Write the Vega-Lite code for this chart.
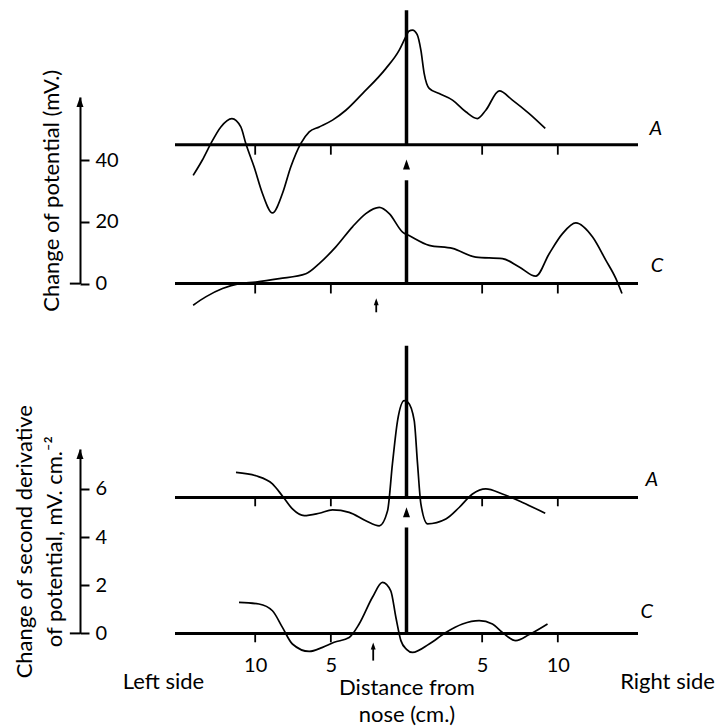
{
  "$schema": "https://vega.github.io/schema/vega-lite/v6.json",
  "background": "white",
  "padding": {"top": 8, "left": 13, "right": 5, "bottom": 5},
  "config": {
    "view": {"stroke": null},
    "font": "Lato",
    "axis": {"labelColor": "black", "titleColor": "black", "domainColor": "black", "tickColor": "black", "grid": false, "labelFontSize": 20, "titleFontSize": 22, "titleFontWeight": "normal", "minExtent": 0}
  },
  "datasets": {
    "curves": [
      {"p": "top", "s": "A", "x": -14.1, "y": 35.1},
      {"p": "top", "s": "A", "x": -13.5, "y": 40.0},
      {"p": "top", "s": "A", "x": -12.93, "y": 45.4},
      {"p": "top", "s": "A", "x": -12.27, "y": 50.8},
      {"p": "top", "s": "A", "x": -11.54, "y": 53.5},
      {"p": "top", "s": "A", "x": -10.95, "y": 50.8},
      {"p": "top", "s": "A", "x": -10.62, "y": 45.4},
      {"p": "top", "s": "A", "x": -10.07, "y": 37.8},
      {"p": "top", "s": "A", "x": -9.52, "y": 29.2},
      {"p": "top", "s": "A", "x": -8.86, "y": 22.9},
      {"p": "top", "s": "A", "x": -8.2, "y": 29.2},
      {"p": "top", "s": "A", "x": -7.65, "y": 37.8},
      {"p": "top", "s": "A", "x": -6.99, "y": 45.4},
      {"p": "top", "s": "A", "x": -6.43, "y": 49.2},
      {"p": "top", "s": "A", "x": -5.77, "y": 50.8},
      {"p": "top", "s": "A", "x": -4.89, "y": 53.0},
      {"p": "top", "s": "A", "x": -4.01, "y": 56.2},
      {"p": "top", "s": "A", "x": -2.91, "y": 61.6},
      {"p": "top", "s": "A", "x": -1.37, "y": 69.7},
      {"p": "top", "s": "A", "x": -0.48, "y": 75.7},
      {"p": "top", "s": "A", "x": -0.05, "y": 80.0},
      {"p": "top", "s": "A", "x": 0.15, "y": 81.8},
      {"p": "top", "s": "A", "x": 0.4, "y": 82.2},
      {"p": "top", "s": "A", "x": 0.7, "y": 80.8},
      {"p": "top", "s": "A", "x": 0.95, "y": 75.7},
      {"p": "top", "s": "A", "x": 1.17, "y": 68.1},
      {"p": "top", "s": "A", "x": 1.5, "y": 63.3},
      {"p": "top", "s": "A", "x": 2.16, "y": 61.6},
      {"p": "top", "s": "A", "x": 3.04, "y": 59.5},
      {"p": "top", "s": "A", "x": 3.92, "y": 55.7},
      {"p": "top", "s": "A", "x": 4.69, "y": 53.5},
      {"p": "top", "s": "A", "x": 5.24, "y": 56.2},
      {"p": "top", "s": "A", "x": 6.13, "y": 62.5},
      {"p": "top", "s": "A", "x": 7.0, "y": 59.5},
      {"p": "top", "s": "A", "x": 8.11, "y": 55.1},
      {"p": "top", "s": "A", "x": 9.17, "y": 50.3},
      {"p": "top", "s": "C", "x": -14.1, "y": -7.0},
      {"p": "top", "s": "C", "x": -13.27, "y": -4.3},
      {"p": "top", "s": "C", "x": -12.16, "y": -1.6},
      {"p": "top", "s": "C", "x": -11.06, "y": 0.0},
      {"p": "top", "s": "C", "x": -9.96, "y": 0.5},
      {"p": "top", "s": "C", "x": -8.41, "y": 1.6},
      {"p": "top", "s": "C", "x": -6.65, "y": 3.2},
      {"p": "top", "s": "C", "x": -5.77, "y": 6.5},
      {"p": "top", "s": "C", "x": -4.67, "y": 11.9},
      {"p": "top", "s": "C", "x": -3.57, "y": 18.4},
      {"p": "top", "s": "C", "x": -2.69, "y": 22.7},
      {"p": "top", "s": "C", "x": -1.8, "y": 24.7},
      {"p": "top", "s": "C", "x": -1.14, "y": 22.7},
      {"p": "top", "s": "C", "x": -0.26, "y": 16.7},
      {"p": "top", "s": "C", "x": 0.2, "y": 15.5},
      {"p": "top", "s": "C", "x": 1.5, "y": 12.4},
      {"p": "top", "s": "C", "x": 3.04, "y": 11.4},
      {"p": "top", "s": "C", "x": 4.58, "y": 8.6},
      {"p": "top", "s": "C", "x": 6.34, "y": 8.1},
      {"p": "top", "s": "C", "x": 7.45, "y": 5.4},
      {"p": "top", "s": "C", "x": 8.55, "y": 2.4},
      {"p": "top", "s": "C", "x": 9.43, "y": 9.7},
      {"p": "top", "s": "C", "x": 10.31, "y": 16.2},
      {"p": "top", "s": "C", "x": 11.19, "y": 19.7},
      {"p": "top", "s": "C", "x": 12.3, "y": 15.1},
      {"p": "top", "s": "C", "x": 13.17, "y": 7.6},
      {"p": "top", "s": "C", "x": 13.84, "y": 1.6},
      {"p": "top", "s": "C", "x": 14.24, "y": -3.2},
      {"p": "bottom", "s": "A", "x": -11.27, "y": 6.69},
      {"p": "bottom", "s": "A", "x": -9.96, "y": 6.55},
      {"p": "bottom", "s": "A", "x": -8.86, "y": 6.21},
      {"p": "bottom", "s": "A", "x": -8.2, "y": 5.71},
      {"p": "bottom", "s": "A", "x": -7.54, "y": 5.17},
      {"p": "bottom", "s": "A", "x": -6.76, "y": 4.89},
      {"p": "bottom", "s": "A", "x": -5.77, "y": 4.99},
      {"p": "bottom", "s": "A", "x": -4.89, "y": 5.13},
      {"p": "bottom", "s": "A", "x": -3.79, "y": 5.03},
      {"p": "bottom", "s": "A", "x": -2.69, "y": 4.68},
      {"p": "bottom", "s": "A", "x": -1.8, "y": 4.47},
      {"p": "bottom", "s": "A", "x": -1.25, "y": 5.1},
      {"p": "bottom", "s": "A", "x": -0.93, "y": 7.04},
      {"p": "bottom", "s": "A", "x": -0.59, "y": 8.84},
      {"p": "bottom", "s": "A", "x": -0.15, "y": 9.67},
      {"p": "bottom", "s": "A", "x": 0.1, "y": 9.6},
      {"p": "bottom", "s": "A", "x": 0.51, "y": 8.84},
      {"p": "bottom", "s": "A", "x": 0.73, "y": 7.04},
      {"p": "bottom", "s": "A", "x": 0.95, "y": 5.38},
      {"p": "bottom", "s": "A", "x": 1.39, "y": 4.55},
      {"p": "bottom", "s": "A", "x": 2.6, "y": 4.75},
      {"p": "bottom", "s": "A", "x": 3.48, "y": 5.23},
      {"p": "bottom", "s": "A", "x": 4.36, "y": 5.79},
      {"p": "bottom", "s": "A", "x": 5.24, "y": 6.0},
      {"p": "bottom", "s": "A", "x": 6.34, "y": 5.79},
      {"p": "bottom", "s": "A", "x": 7.67, "y": 5.44},
      {"p": "bottom", "s": "A", "x": 9.17, "y": 4.99},
      {"p": "bottom", "s": "C", "x": -11.07, "y": 1.29},
      {"p": "bottom", "s": "C", "x": -9.75, "y": 1.22},
      {"p": "bottom", "s": "C", "x": -8.86, "y": 0.94},
      {"p": "bottom", "s": "C", "x": -8.2, "y": 0.25},
      {"p": "bottom", "s": "C", "x": -7.54, "y": -0.44},
      {"p": "bottom", "s": "C", "x": -6.43, "y": -0.75},
      {"p": "bottom", "s": "C", "x": -5.55, "y": -0.58},
      {"p": "bottom", "s": "C", "x": -4.78, "y": -0.37},
      {"p": "bottom", "s": "C", "x": -3.79, "y": -0.17},
      {"p": "bottom", "s": "C", "x": -3.13, "y": 0.39},
      {"p": "bottom", "s": "C", "x": -2.25, "y": 1.5},
      {"p": "bottom", "s": "C", "x": -1.59, "y": 2.12},
      {"p": "bottom", "s": "C", "x": -1.04, "y": 1.77},
      {"p": "bottom", "s": "C", "x": -0.7, "y": 0.66},
      {"p": "bottom", "s": "C", "x": -0.37, "y": -0.3},
      {"p": "bottom", "s": "C", "x": 0.0, "y": -0.66},
      {"p": "bottom", "s": "C", "x": 0.4, "y": -0.79},
      {"p": "bottom", "s": "C", "x": 1.5, "y": -0.44},
      {"p": "bottom", "s": "C", "x": 2.6, "y": 0.04},
      {"p": "bottom", "s": "C", "x": 3.7, "y": 0.39},
      {"p": "bottom", "s": "C", "x": 4.8, "y": 0.53},
      {"p": "bottom", "s": "C", "x": 5.68, "y": 0.39},
      {"p": "bottom", "s": "C", "x": 6.34, "y": 0.04},
      {"p": "bottom", "s": "C", "x": 7.22, "y": -0.3},
      {"p": "bottom", "s": "C", "x": 8.11, "y": -0.05},
      {"p": "bottom", "s": "C", "x": 9.32, "y": 0.39}
    ],
    "baselines": [
      {"p": "top", "k": "base", "x": -15.3, "x2": 15.3, "y": 45},
      {"p": "top", "k": "base", "x": -15.3, "x2": 15.3, "y": 0},
      {"p": "bottom", "k": "base", "x": -15.3, "x2": 15.3, "y": 5.65},
      {"p": "bottom", "k": "base", "x": -15.3, "x2": 15.3, "y": 0},
      {"p": "top", "k": "zero", "x": -22.25, "x2": -21.58, "y": 0},
      {"p": "bottom", "k": "zero", "x": -22.25, "x2": -21.58, "y": 0}
    ],
    "segments": [
      {"p": "top", "k": "centre", "x": 0, "y": 45, "y2": 88.6},
      {"p": "top", "k": "centre", "x": 0, "y": 0, "y2": 33.5},
      {"p": "top", "k": "thin", "x": -2.0, "y": -5.9, "y2": -9.3},
      {"p": "top", "k": "thin", "x": -10, "y": 45, "y2": 41.8},
      {"p": "top", "k": "thin", "x": -5, "y": 45, "y2": 41.8},
      {"p": "top", "k": "thin", "x": 5, "y": 45, "y2": 41.8},
      {"p": "top", "k": "thin", "x": 10, "y": 45, "y2": 41.8},
      {"p": "top", "k": "thin", "x": -10, "y": 0, "y2": -3.2},
      {"p": "top", "k": "thin", "x": -5, "y": 0, "y2": -3.2},
      {"p": "top", "k": "thin", "x": 5, "y": 0, "y2": -3.2},
      {"p": "top", "k": "thin", "x": 10, "y": 0, "y2": -3.2},
      {"p": "bottom", "k": "centre", "x": 0, "y": 5.65, "y2": 11.95},
      {"p": "bottom", "k": "centre", "x": 0, "y": 0, "y2": 4.4},
      {"p": "bottom", "k": "thin", "x": -2.2, "y": -0.52, "y2": -1.13},
      {"p": "bottom", "k": "thin", "x": -10, "y": 5.65, "y2": 5.28},
      {"p": "bottom", "k": "thin", "x": -5, "y": 5.65, "y2": 5.28},
      {"p": "bottom", "k": "thin", "x": 5, "y": 5.65, "y2": 5.28},
      {"p": "bottom", "k": "thin", "x": 10, "y": 5.65, "y2": 5.28},
      {"p": "bottom", "k": "thin", "x": -10, "y": 0, "y2": -0.37},
      {"p": "bottom", "k": "thin", "x": -5, "y": 0, "y2": -0.37},
      {"p": "bottom", "k": "thin", "x": 5, "y": 0, "y2": -0.37},
      {"p": "bottom", "k": "thin", "x": 10, "y": 0, "y2": -0.37}
    ],
    "heads": [
      {"p": "top", "k": "big", "x": 0, "y": 38.6},
      {"p": "top", "k": "big", "x": -21.58, "y": 58.9},
      {"p": "top", "k": "small", "x": -2.0, "y": -5.9},
      {"p": "bottom", "k": "big", "x": 0, "y": 5.03},
      {"p": "bottom", "k": "big", "x": -21.58, "y": 7.45},
      {"p": "bottom", "k": "small", "x": -2.2, "y": -0.52}
    ],
    "labels": [
      {"p": "top", "t": "A", "x": 16.06, "y": 48.1},
      {"p": "top", "t": "C", "x": 16.15, "y": 3.8},
      {"p": "bottom", "t": "A", "x": 15.8, "y": 6.14},
      {"p": "bottom", "t": "C", "x": 15.47, "y": 0.65}
    ],
    "sides": [
      {"t": "Left side", "x": -16.06, "y": -2.3},
      {"t": "Right side", "x": 17.25, "y": -2.3}
    ]
  },
  "bounds": "flush",
  "spacing": 165,
  "vconcat": [
    {
      "width": 463,
      "height": 186.6,
      "encoding": {
        "x": {"field": "x", "type": "quantitative", "scale": {"domain": [-15.3, 15.3], "nice": false, "zero": false}, "axis": null},
        "y": {"field": "y", "type": "quantitative", "scale": {"domain": [0, 60.5], "nice": false, "zero": false},
          "axis": {"title": "Change of potential (mV.)", "values": [0, 20, 40], "offset": 95, "domainWidth": 2, "tickWidth": 2, "tickSize": -9, "labelAlign": "left", "labelPadding": -6, "titlePadding": 16}}
      },
      "layer": [
        {"data": {"name": "baselines"}, "transform": [{"filter": "datum.p == 'top' && datum.k == 'base'"}], "mark": {"type": "rule", "strokeWidth": 3, "color": "black"}, "encoding": {"x2": {"field": "x2"}}},
        {"data": {"name": "baselines"}, "transform": [{"filter": "datum.p == 'top' && datum.k == 'zero'"}], "mark": {"type": "rule", "strokeWidth": 2, "color": "black"}, "encoding": {"x2": {"field": "x2"}}},
        {"data": {"name": "segments"}, "transform": [{"filter": "datum.p == 'top' && datum.k == 'centre'"}], "mark": {"type": "rule", "strokeWidth": 3.5, "color": "black"}, "encoding": {"y2": {"field": "y2"}}},
        {"data": {"name": "segments"}, "transform": [{"filter": "datum.p == 'top' && datum.k == 'thin'"}], "mark": {"type": "rule", "strokeWidth": 1.8, "color": "black"}, "encoding": {"y2": {"field": "y2"}}},
        {"data": {"name": "curves"}, "transform": [{"filter": "datum.p == 'top'"}], "mark": {"type": "line", "interpolate": "monotone", "color": "black", "strokeWidth": 1.7}, "encoding": {"detail": {"field": "s"}}},
        {"data": {"name": "heads"}, "transform": [{"filter": "datum.p == 'top' && datum.k == 'big'"}], "mark": {"type": "point", "shape": "M0,-1L0.7,1L-0.7,1Z", "filled": true, "color": "black", "opacity": 1, "size": 100}},
        {"data": {"name": "heads"}, "transform": [{"filter": "datum.p == 'top' && datum.k == 'small'"}], "mark": {"type": "point", "shape": "M0,-1L0.7,1L-0.7,1Z", "filled": true, "color": "black", "opacity": 1, "size": 49}},
        {"data": {"name": "labels"}, "transform": [{"filter": "datum.p == 'top'"}], "mark": {"type": "text", "align": "left", "baseline": "alphabetic", "fontStyle": "italic", "fontSize": 20, "color": "black"}, "encoding": {"text": {"field": "t"}}}
      ]
    },
    {
      "width": 463,
      "height": 184.4,
      "encoding": {
        "x": {"field": "x", "type": "quantitative", "scale": {"domain": [-15.3, 15.3], "nice": false, "zero": false},
          "axis": {"values": [-10, -5, 5, 10], "labelExpr": "'' + abs(datum.value)", "domain": false, "ticks": false, "labelPadding": 22, "labelFlush": false, "title": ["Distance from", "nose (cm.)"], "titlePadding": 2, "titleLineHeight": 27}},
        "y": {"field": "y", "type": "quantitative", "scale": {"domain": [0, 7.66], "nice": false, "zero": false},
          "axis": {"title": ["Change of second derivative", "of potential, mV. cm.⁻²"], "titleLineHeight": 30, "values": [0, 2, 4, 6], "offset": 95, "domainWidth": 2, "tickWidth": 2, "tickSize": -9, "labelAlign": "left", "labelPadding": -6, "titlePadding": 13}}
      },
      "layer": [
        {"data": {"name": "baselines"}, "transform": [{"filter": "datum.p == 'bottom' && datum.k == 'base'"}], "mark": {"type": "rule", "strokeWidth": 3, "color": "black"}, "encoding": {"x2": {"field": "x2"}}},
        {"data": {"name": "baselines"}, "transform": [{"filter": "datum.p == 'bottom' && datum.k == 'zero'"}], "mark": {"type": "rule", "strokeWidth": 2, "color": "black"}, "encoding": {"x2": {"field": "x2"}}},
        {"data": {"name": "segments"}, "transform": [{"filter": "datum.p == 'bottom' && datum.k == 'centre'"}], "mark": {"type": "rule", "strokeWidth": 3.5, "color": "black"}, "encoding": {"y2": {"field": "y2"}}},
        {"data": {"name": "segments"}, "transform": [{"filter": "datum.p == 'bottom' && datum.k == 'thin'"}], "mark": {"type": "rule", "strokeWidth": 1.8, "color": "black"}, "encoding": {"y2": {"field": "y2"}}},
        {"data": {"name": "curves"}, "transform": [{"filter": "datum.p == 'bottom'"}], "mark": {"type": "line", "interpolate": "monotone", "color": "black", "strokeWidth": 1.7}, "encoding": {"detail": {"field": "s"}}},
        {"data": {"name": "heads"}, "transform": [{"filter": "datum.p == 'bottom' && datum.k == 'big'"}], "mark": {"type": "point", "shape": "M0,-1L0.7,1L-0.7,1Z", "filled": true, "color": "black", "opacity": 1, "size": 100}},
        {"data": {"name": "heads"}, "transform": [{"filter": "datum.p == 'bottom' && datum.k == 'small'"}], "mark": {"type": "point", "shape": "M0,-1L0.7,1L-0.7,1Z", "filled": true, "color": "black", "opacity": 1, "size": 49}},
        {"data": {"name": "labels"}, "transform": [{"filter": "datum.p == 'bottom'"}], "mark": {"type": "text", "align": "left", "baseline": "alphabetic", "fontStyle": "italic", "fontSize": 20, "color": "black"}, "encoding": {"text": {"field": "t"}}},
        {"data": {"name": "sides"}, "mark": {"type": "text", "align": "center", "baseline": "alphabetic", "fontSize": 22, "color": "black"}, "encoding": {"text": {"field": "t"}}}
      ]
    }
  ]
}
